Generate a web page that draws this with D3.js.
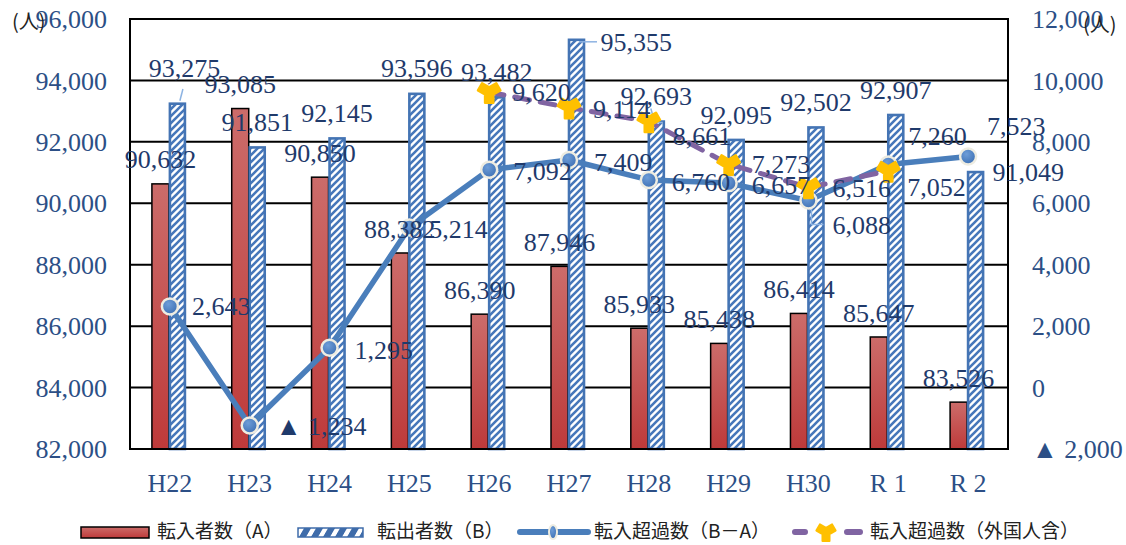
<!DOCTYPE html>
<html>
<head>
<meta charset="utf-8">
<script src="https://cdn.jsdelivr.net/npm/d3@7"></script>
<style>
  html, body { margin: 0; padding: 0; background: #fff; }
  svg { display: block; }
</style>
</head>
<body>
<svg id="chart" width="1126" height="545"></svg>
<script>
// ---------------- DATA ----------------
const categories = ['H22','H23','H24','H25','H26','H27','H28','H29','H30','R 1','R 2'];
const inflowA   = [90632, 93085, 90850, 88382, 86390, 87946, 85933, 85438, 86414, 85647, 83526];
const outflowB  = [93275, 91851, 92145, 93596, 93482, 95355, 92693, 92095, 92502, 92907, 91049];
const netBA     = [2643, -1234, 1295, 5214, 7092, 7409, 6760, 6657, 6088, 7260, 7523];
const netForeign = [null, null, null, null, 9620, 9114, 8661, 7273, 6516, 7052, null];
const leftTicks  = [82000, 84000, 86000, 88000, 90000, 92000, 94000, 96000];
const rightTicks = [-2000, 0, 2000, 4000, 6000, 8000, 10000, 12000];
const legendLabels = ['転入者数（A）', '転出者数（B）', '転入超過数（B－A）', '転入超過数（外国人含）'];
const unitLabel = '(人)';

// ---------------- LAYOUT / STYLE ----------------
const plot = { left: 130, right: 1008, top: 19, bottom: 449 };
const labelFont = '"Liberation Serif", "Times New Roman", serif';
const cjkFont = '"Noto Sans CJK JP", "Noto Sans", sans-serif';
const axisColor = '#2C4F86';
const labelColor = '#1F3A6B';
const lineBlue = '#4A7EBB';
const purple = '#8064A2';
const yellow = '#FFC000';
const leader = '#8DB3E2';

// label offsets (position styling, not data)
const netOffsets = [[22,0],[26,1],[25,3],[20,2],[24,2],[25,2],[23,2],[23,2],[24,25],[20,-28],[19,-30]];
const forOffsets = [null,null,null,null,[23,0],[24,2],[24,15],[23,0],[24,1],[19,16],null];

const svg = d3.select('#chart');
const defs = svg.append('defs');

// gradients & patterns
const redGrad = defs.append('linearGradient').attr('id','redGrad').attr('x1',0).attr('y1',0).attr('x2',0).attr('y2',1);
redGrad.append('stop').attr('offset','0%').attr('stop-color','#CC6C6A');
redGrad.append('stop').attr('offset','100%').attr('stop-color','#BE3A3A');

const dotGrad = defs.append('radialGradient').attr('id','dotGrad').attr('cx','40%').attr('cy','35%').attr('r','70%');
dotGrad.append('stop').attr('offset','0%').attr('stop-color','#6E9DD8');
dotGrad.append('stop').attr('offset','100%').attr('stop-color','#3C6FB3');

const pat = defs.append('pattern').attr('id','hatch').attr('patternUnits','userSpaceOnUse')
  .attr('width',7).attr('height',7);
pat.append('rect').attr('width',7).attr('height',7).attr('fill','#fff');
pat.append('path').attr('d','M-1,8 L8,-1 M-1,1 L1,-1 M6,8 L8,6')
  .attr('stroke','#4677BA').attr('stroke-width',2.6);

const pat2 = defs.append('pattern').attr('id','hatchLegend').attr('patternUnits','userSpaceOnUse')
  .attr('width',12).attr('height',12).attr('patternTransform','translate(0,0) skewX(-30)');
pat2.append('rect').attr('width',12).attr('height',12).attr('fill','#3F6CAA');
pat2.append('rect').attr('x',4).attr('width',5).attr('height',12).attr('fill','#fff');

// scales
const x = d3.scaleBand().domain(categories).range([plot.left, plot.right]).padding(0);
const yL = d3.scaleLinear().domain([82000, 96000]).range([plot.bottom, plot.top]);
const yR = d3.scaleLinear().domain([-2000, 12000]).range([plot.bottom, plot.top]);
const cx = c => x(c) + x.bandwidth() / 2;
const barW = 17;
const sub = d3.scaleBand().domain(['A','B']).range([-18, 16]).padding(0);

const fmt = d3.format(',');
const fmtSigned = v => v < 0 ? '▲ ' + fmt(-v) : fmt(v);

// gridlines
svg.append('g').selectAll('line').data(leftTicks).join('line')
  .attr('x1', plot.left).attr('x2', plot.right)
  .attr('y1', d => yL(d)).attr('y2', d => yL(d))
  .attr('stroke', '#000').attr('stroke-width', 2);
svg.append('line').attr('x1',plot.left).attr('x2',plot.left).attr('y1',plot.top-1).attr('y2',plot.bottom+1)
  .attr('stroke','#000').attr('stroke-width',2);
svg.append('line').attr('x1',plot.right).attr('x2',plot.right).attr('y1',plot.top-1).attr('y2',plot.bottom+1)
  .attr('stroke','#000').attr('stroke-width',2);

// axes (text only)
const leftAxis = d3.axisLeft(yL).tickValues(leftTicks).tickFormat(fmt).tickSize(0).tickPadding(0);
const gL = svg.append('g').attr('transform', `translate(107,0)`).call(leftAxis);
gL.select('.domain').remove();
gL.selectAll('text').attr('font-family', labelFont).attr('font-size', 26).attr('fill', axisColor).attr('dy','0.33em');

const rightAxis = d3.axisRight(yR).tickValues(rightTicks).tickFormat(fmtSigned).tickSize(0).tickPadding(0);
const gR = svg.append('g').attr('transform', `translate(1032,0)`).call(rightAxis);
gR.select('.domain').remove();
gR.selectAll('text').attr('font-family', labelFont).attr('font-size', 26).attr('fill', axisColor).attr('dy','0.33em');

const bottomAxis = d3.axisBottom(x).tickSize(0).tickPadding(0);
const gB = svg.append('g').attr('transform', `translate(0,${plot.bottom})`).call(bottomAxis);
gB.select('.domain').remove();
gB.selectAll('text').attr('font-family', labelFont).attr('font-size', 26).attr('fill', axisColor)
  .attr('y', 34).attr('dy','0.33em').attr('x', 0);

// unit labels
svg.append('text').attr('x', 12).attr('y', 22).attr('dy','0.35em').attr('font-family', cjkFont)
  .attr('font-size', 20).attr('fill','#222').text(unitLabel);
svg.append('text').attr('x', 1083).attr('y', 25).attr('dy','0.35em').attr('font-family', cjkFont)
  .attr('font-size', 20).attr('fill','#222').text(unitLabel);

// bars
svg.append('g').selectAll('rect').data(categories).join('rect')
  .attr('x', (c) => cx(c) + sub('A')).attr('width', barW)
  .attr('y', (c,i) => yL(inflowA[i])).attr('height', (c,i) => plot.bottom - yL(inflowA[i]))
  .attr('fill','url(#redGrad)').attr('stroke','#000').attr('stroke-width',1.5);
svg.append('g').selectAll('rect').data(categories).join('rect')
  .attr('x', (c) => cx(c) + sub('B') + 1).attr('width', barW - 2)
  .attr('y', (c,i) => yL(outflowB[i]) + 1).attr('height', (c,i) => plot.bottom - yL(outflowB[i]) - 1)
  .attr('fill','url(#hatch)').attr('stroke','#4474B4').attr('stroke-width',2.6);

// bottom axis line redrawn over bars
svg.append('line').attr('x1',plot.left).attr('x2',plot.right).attr('y1',plot.bottom).attr('y2',plot.bottom)
  .attr('stroke','#000').attr('stroke-width',2);

// net line
const netLine = d3.line().x((d,i) => cx(categories[i])).y(d => yR(d));
svg.append('path').attr('d', netLine(netBA)).attr('fill','none')
  .attr('stroke', lineBlue).attr('stroke-width', 5.5).attr('stroke-linejoin','round').attr('stroke-linecap','round');

// foreign-inclusive line
const forPts = netForeign.map((v,i) => ({v, i})).filter(d => d.v !== null);
const forLine = d3.line().x(d => cx(categories[d.i])).y(d => yR(d.v));
svg.append('path').attr('d', forLine(forPts)).attr('fill','none')
  .attr('stroke', purple).attr('stroke-width', 5).attr('stroke-dasharray','15,11').attr('stroke-linecap','round');

// leader lines
const ldr = svg.append('g').attr('stroke', leader).attr('stroke-width', 1.5).attr('fill','none');
ldr.append('path').attr('d', `M${cx('H22')+13},89 L${cx('H22')+10},${yL(outflowB[0])-2}`);
ldr.append('path').attr('d', `M${cx('H27')+10},${yL(outflowB[5])+3} L${cx('H27')+28},${yL(outflowB[5])+3}`);
ldr.append('path').attr('d', `M${cx('H28')+2},${yL(outflowB[6])-12} L${cx('H28')+6},${yL(outflowB[6])+2} L${cx('H28')+14},${yL(outflowB[6])+2}`);
ldr.append('path').attr('d', `M${cx('H30')+3},${yR(netBA[8])+8} L${cx('H30')+3},${yR(netBA[8])+24} L${cx('H30')+15},${yR(netBA[8])+24}`);

// net markers
svg.append('g').selectAll('circle').data(netBA).join('circle')
  .attr('cx', (d,i) => cx(categories[i])).attr('cy', d => yR(d)).attr('r', 8)
  .attr('fill','url(#dotGrad)').attr('stroke','#EEECE1').attr('stroke-width',2.5);

// foreign markers
const wye = d3.symbol().type(d3.symbolWye).size(230);
svg.append('g').selectAll('path').data(forPts).join('path')
  .attr('d', wye).attr('transform', d => `translate(${cx(categories[d.i])},${yR(d.v)})`)
  .attr('fill', yellow).attr('stroke', yellow).attr('stroke-width', 2.5).attr('stroke-linejoin','round');

// data labels
const lbl = svg.append('g').attr('font-family', labelFont).attr('font-size', 26).attr('fill', labelColor);
// inflow labels
lbl.selectAll('text.a').data(inflowA).join('text').attr('class','a')
  .attr('x', (d,i) => cx(categories[i]) + sub('A') + barW/2)
  .attr('y', d => yL(d) - 24).attr('dy','0.33em').attr('text-anchor','middle').text(fmt);
// outflow labels
lbl.selectAll('text.b').data(outflowB).join('text').attr('class','b')
  .each(function(d,i) {
    const t = d3.select(this);
    const bx = cx(categories[i]) + sub('B') + barW/2;
    let X = bx, Y = yL(d) - 24, anchor = 'middle';
    if (i === 0) { X = bx + 7; Y = yL(d) - 34; }
    if (i === 5) { X = bx + 24; Y = yL(d) + 4; anchor = 'start'; }
    if (i === 10) { X = bx + 17; Y = yL(d) + 1; anchor = 'start'; }
    t.attr('x', X).attr('y', Y).attr('text-anchor', anchor);
  })
  .attr('dy','0.33em').text(fmt);
// net labels
lbl.selectAll('text.n').data(netBA).join('text').attr('class','n')
  .attr('x', (d,i) => cx(categories[i]) + netOffsets[i][0])
  .attr('y', (d,i) => yR(d) + netOffsets[i][1]).attr('dy','0.33em').attr('text-anchor','start')
  .text(fmtSigned);
// foreign labels
lbl.selectAll('text.f').data(forPts).join('text').attr('class','f')
  .attr('x', d => cx(categories[d.i]) + forOffsets[d.i][0])
  .attr('y', d => yR(d.v) + forOffsets[d.i][1]).attr('dy','0.33em').attr('text-anchor','start')
  .text(d => fmt(d.v));

// legend
const lg = svg.append('g');
const ly = 532;
lg.append('rect').attr('x',81).attr('y',ly-5).attr('width',68).attr('height',11)
  .attr('fill','url(#redGrad)').attr('stroke','#000').attr('stroke-width',1.5);
lg.append('rect').attr('x',298).attr('y',ly-4).attr('width',65).attr('height',9)
  .attr('fill','url(#hatchLegend)').attr('stroke','#3F6CAA').attr('stroke-width',1.5);
lg.append('line').attr('x1',520).attr('x2',588).attr('y1',ly).attr('y2',ly)
  .attr('stroke',lineBlue).attr('stroke-width',6).attr('stroke-linecap','round');
lg.append('ellipse').attr('cx',553).attr('cy',ly).attr('rx',4).attr('ry',7)
  .attr('fill','url(#dotGrad)').attr('stroke','#EEECE1').attr('stroke-width',2);
lg.append('path').attr('d',`M795,${ly} L805,${ly} M847,${ly} L860,${ly}`)
  .attr('stroke',purple).attr('stroke-width',6).attr('stroke-linecap','round');
lg.append('path').attr('d', d3.symbol().type(d3.symbolWye).size(170)).attr('transform',`translate(826,${ly})`)
  .attr('fill',yellow).attr('stroke',yellow).attr('stroke-width',2).attr('stroke-linejoin','round');
const legX = [157, 377, 594, 870];
lg.selectAll('text').data(legendLabels).join('text')
  .attr('x', (d,i) => legX[i]).attr('y', ly - 1).attr('dy','0.35em')
  .attr('font-family', cjkFont).attr('font-size', 19).attr('fill','#222').text(d => d);
</script>
</body>
</html>
